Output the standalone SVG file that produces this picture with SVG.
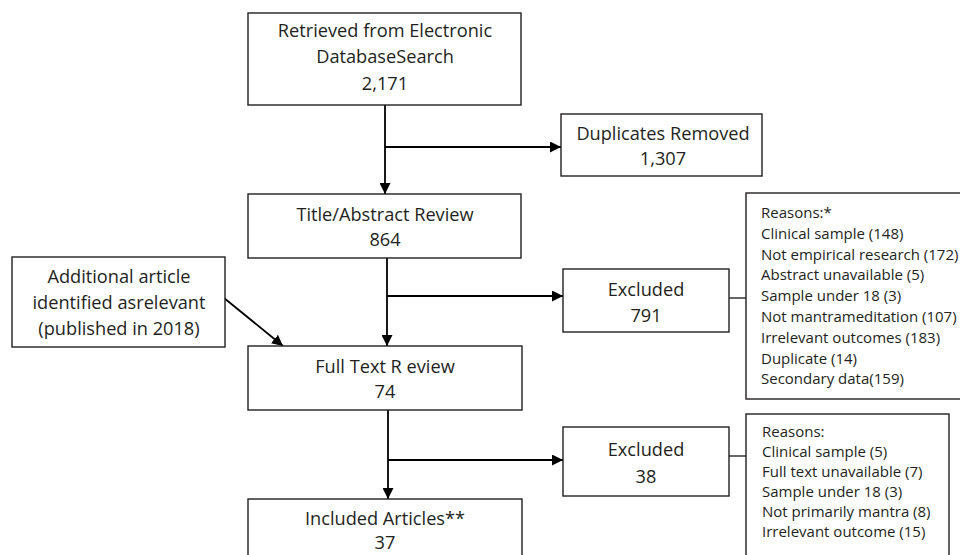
<svg xmlns="http://www.w3.org/2000/svg" width="960" height="555" viewBox="0 0 960 555">
<style>
.box{fill:#fff;stroke:#231f20;stroke-width:1.4}
.t{font-family:"Open Sans","Noto Sans","Liberation Sans",sans-serif;font-size:18.2px;fill:#231f20;text-anchor:middle}
.r{font-family:"Open Sans","Noto Sans","Liberation Sans",sans-serif;font-size:15px;fill:#231f20}
.c{stroke:#000;stroke-width:1.8;fill:none}
.l{stroke:#000;stroke-width:1.2;fill:none}
</style>
<defs>
<marker id="ah" viewBox="0 0 10 10" refX="10" refY="5" markerWidth="11" markerHeight="11" markerUnits="userSpaceOnUse" orient="auto">
<path d="M0,0 L10,5 L0,10 Z" fill="#000"/>
</marker>
</defs>
<rect width="960" height="555" fill="#fff"/>
<g id="connectors">
<line class="c" x1="385" y1="105" x2="385" y2="194" marker-end="url(#ah)"/>
<line class="c" x1="385" y1="147" x2="561" y2="147" marker-end="url(#ah)"/>
<line class="c" x1="387" y1="258" x2="387" y2="346" marker-end="url(#ah)"/>
<line class="c" x1="387" y1="296" x2="563" y2="296" marker-end="url(#ah)"/>
<line class="c" x1="224" y1="298" x2="283" y2="346" marker-end="url(#ah)"/>
<line class="c" x1="388" y1="410" x2="388" y2="499" marker-end="url(#ah)"/>
<line class="c" x1="388" y1="460" x2="563" y2="460" marker-end="url(#ah)"/>
<line class="l" x1="729" y1="298" x2="746" y2="298"/>
<line class="l" x1="729" y1="456" x2="746" y2="456"/>
</g>
<g id="retrieved">
<rect class="box" x="248" y="13" width="273" height="92"/>
<text class="t" x="385" y="37">Retrieved from Electronic</text>
<text class="t" x="385" y="63">DatabaseSearch</text>
<text class="t" x="385" y="90">2,171</text>
</g>
<g id="duplicates">
<rect class="box" x="561" y="114" width="201" height="62"/>
<text class="t" x="663" y="140">Duplicates Removed</text>
<text class="t" x="663" y="165">1,307</text>
</g>
<g id="title-abstract">
<rect class="box" x="248" y="194" width="273" height="64"/>
<text class="t" x="385" y="221">Title/Abstract Review</text>
<text class="t" x="385" y="246">864</text>
</g>
<g id="additional">
<rect class="box" x="12" y="257" width="213" height="90"/>
<text class="t" x="119" y="283">Additional article</text>
<text class="t" x="119" y="309">identified asrelevant</text>
<text class="t" x="119" y="335">(published in 2018)</text>
</g>
<g id="excluded1">
<rect class="box" x="563" y="269" width="166" height="63"/>
<text class="t" x="646" y="296">Excluded</text>
<text class="t" x="646" y="322">791</text>
</g>
<g id="reasons1">
<rect class="box" x="746" y="193" width="218" height="206"/>
<text class="r" x="761" y="218">Reasons:*</text>
<text class="r" x="761" y="238.8">Clinical sample (148)</text>
<text class="r" x="761" y="259.6">Not empirical research (172)</text>
<text class="r" x="761" y="280.4">Abstract unavailable (5)</text>
<text class="r" x="761" y="301.2">Sample under 18 (3)</text>
<text class="r" x="761" y="322">Not mantrameditation (107)</text>
<text class="r" x="761" y="342.8">Irrelevant outcomes (183)</text>
<text class="r" x="761" y="363.6">Duplicate (14)</text>
<text class="r" x="761" y="384.4">Secondary data(159)</text>
</g>
<g id="fulltext">
<rect class="box" x="248" y="346" width="274" height="64"/>
<text class="t" x="385" y="373">Full Text R eview</text>
<text class="t" x="385" y="398">74</text>
</g>
<g id="excluded2">
<rect class="box" x="563" y="427" width="166" height="69"/>
<text class="t" x="646" y="456">Excluded</text>
<text class="t" x="646" y="483">38</text>
</g>
<g id="reasons2">
<rect class="box" x="746" y="414" width="203" height="150"/>
<text class="r" x="762" y="437">Reasons:</text>
<text class="r" x="762" y="457">Clinical sample (5)</text>
<text class="r" x="762" y="477">Full text unavailable (7)</text>
<text class="r" x="762" y="497">Sample under 18 (3)</text>
<text class="r" x="762" y="517">Not primarily mantra (8)</text>
<text class="r" x="762" y="537">Irrelevant outcome (15)</text>
</g>
<g id="included">
<rect class="box" x="248" y="499" width="274" height="70"/>
<text class="t" x="385" y="525">Included Articles**</text>
<text class="t" x="385" y="549">37</text>
</g>
</svg>
